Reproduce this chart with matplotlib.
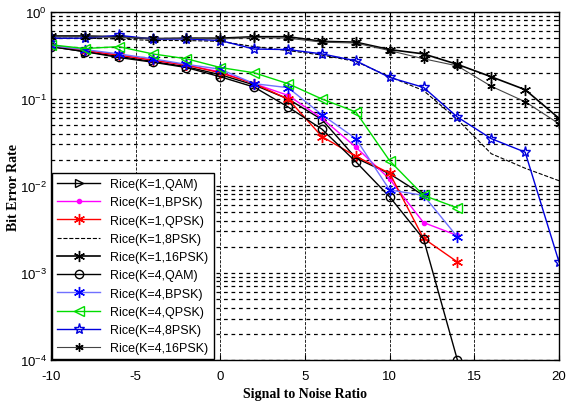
import matplotlib
matplotlib.use("Agg")
import matplotlib.pyplot as plt

plt.rcParams["font.family"] = ["Liberation Sans", "DejaVu Sans"]
plt.rcParams["mathtext.default"] = "regular"
plt.rcParams["axes.unicode_minus"] = False

snr = [-10, -8, -6, -4, -2, 0, 2, 4, 6, 8, 10, 12, 14, 16, 18, 20]

k1_qam = [0.40, 0.35, 0.31, 0.27, 0.235, 0.19, 0.145, 0.10, 0.058, 0.021, 0.0138, 0.0078]
k1_bpsk = [0.42, 0.36, 0.32, 0.28, 0.245, 0.205, 0.15, 0.11, 0.060, 0.028, 0.012, 0.0038, 0.0027]
k1_qpsk = [0.41, 0.36, 0.32, 0.28, 0.245, 0.20, 0.15, 0.10, 0.037, 0.022, 0.0140, 0.0025, 0.00134]
k1_8psk = [0.50, 0.50, 0.49, 0.47, 0.47, 0.46, 0.40, 0.36, 0.32, 0.27, 0.18, 0.125, 0.058, 0.0235, 0.016, 0.0115]
k1_16psk = [0.53, 0.53, 0.52, 0.49, 0.50, 0.50, 0.52, 0.52, 0.46, 0.45, 0.37, 0.33, 0.25, 0.18, 0.128, 0.060]
k4_qam = [0.40, 0.35, 0.30, 0.265, 0.23, 0.18, 0.137, 0.081, 0.045, 0.019, 0.0075, 0.00246, 0.0001]
k4_bpsk = [0.41, 0.37, 0.33, 0.29, 0.25, 0.22, 0.15, 0.135, 0.066, 0.035, 0.0090, 0.0078, 0.0026]
k4_qpsk = [0.42, 0.38, 0.40, 0.33, 0.29, 0.23, 0.20, 0.15, 0.10, 0.071, 0.0195, 0.0078, 0.0056]
k4_8psk = [0.50, 0.50, 0.54, 0.49, 0.49, 0.47, 0.375, 0.37, 0.33, 0.275, 0.177, 0.136, 0.062, 0.035, 0.0245, 0.00134]
k4_16psk = [0.52, 0.52, 0.51, 0.50, 0.50, 0.49, 0.51, 0.50, 0.45, 0.44, 0.36, 0.29, 0.24, 0.14, 0.093, 0.052]

asterisk = (6, 2, 0)

fig = plt.figure(figsize=(5.7, 4.06), dpi=100)
ax = fig.add_axes([0.0895, 0.1108, 0.8912, 0.8572])

ax.semilogy(snr[:len(k1_qam)], k1_qam, color="black", marker=">", mfc="none", ms=6, lw=1, label="Rice(K=1,QAM)")
ax.semilogy(snr[:len(k1_bpsk)], k1_bpsk, color="#ff00ff", marker=".", ms=6, lw=1, label="Rice(K=1,BPSK)")
ax.semilogy(snr[:len(k1_qpsk)], k1_qpsk, color="red", marker=asterisk, ms=8, lw=1, label="Rice(K=1,QPSK)")
ax.semilogy(snr, k1_8psk, color="black", ls="--", lw=0.8, label="Rice(K=1,8PSK)")
ax.semilogy(snr, k1_16psk, color="black", marker=asterisk, ms=8, lw=1.2, label="Rice(K=1,16PSK)")
ax.semilogy(snr[:len(k4_qam)], k4_qam, color="black", marker="o", mfc="none", ms=6, lw=1, label="Rice(K=4,QAM)")
ax.semilogy(snr[:len(k4_bpsk)], k4_bpsk, color="#7070ff", marker=asterisk, mec="blue", ms=8, lw=1, label="Rice(K=4,BPSK)")
ax.semilogy(snr[:len(k4_qpsk)], k4_qpsk, color="#00dd00", marker="<", mfc="none", ms=7, lw=1, label="Rice(K=4,QPSK)")
ax.semilogy(snr, k4_8psk, color="#0000dd", marker="*", mfc="none", ms=8, lw=1, label="Rice(K=4,8PSK)")
ax.semilogy(snr, k4_16psk, color="#444444", marker=asterisk, mec="black", ms=6, lw=0.8, label="Rice(K=4,16PSK)")

ax.set_xlim(-10, 20)
ax.set_ylim(1e-4, 1)
ax.set_xticks([-10, -5, 0, 5, 10, 15, 20])
ax.set_yticks([1e-4, 1e-3, 1e-2, 1e-1, 1])
ax.tick_params(labelsize=9.5, direction="in", which="both", top=True, right=True)
ax.tick_params(axis="x", pad=7)
ax.tick_params(axis="y", pad=3)
ax.grid(True, which="major", axis="x", ls="--", color="black", lw=0.6)
ax.grid(True, which="both", axis="y", ls="--", color="black", lw=0.9, dashes=(3, 3))
for s in ax.spines.values():
    s.set_linewidth(1)

ax.set_xlabel("Signal to Noise Ratio", fontfamily="Liberation Serif", fontweight="bold", fontsize=10, labelpad=4)
ax.set_ylabel("Bit Error Rate", fontfamily="Liberation Serif", fontweight="bold", fontsize=10)
ax.yaxis.set_label_coords(-0.062, 0.5)

leg = ax.legend(loc="lower left", fontsize=9, borderaxespad=0.05, fancybox=False,
                framealpha=1, edgecolor="black", handlelength=3.5, labelspacing=0.5)
leg.get_frame().set_linewidth(1)

fig.savefig("out.png", dpi=100)
